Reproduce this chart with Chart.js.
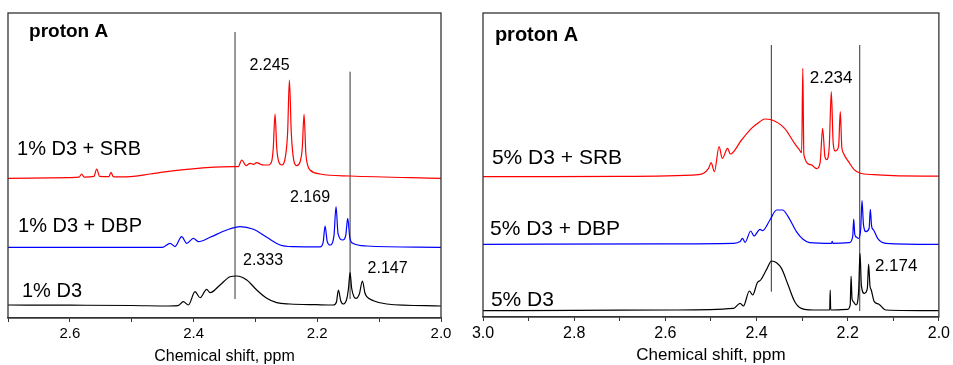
<!doctype html>
<html>

<head>
    <title>proton A</title>
    <script src="https://cdn.jsdelivr.net/npm/chart.js"></script>
    <style>
        body { margin: 0; background: #fff; }
        #wrap { position: relative; width: 953px; height: 365px; }
        canvas { position: absolute; left: 0; top: 0; }
    </style>
</head>

<body>
    <div id="wrap">
        <canvas id="spec1" width="953" height="365"></canvas>
        <canvas id="spec5" width="953" height="365"></canvas>
    </div>

    <script>
        // ---- 1% panel (ppm, intensity above own baseline) ----
        const ppmD3_1 = [2.70, 2.60, 2.50, 2.44, 2.425, 2.4165, 2.4084, 2.3976, 2.3895, 2.3788, 2.3734, 2.3572, 2.341, 2.3302, 2.314, 2.2979, 2.2817, 2.2656, 2.244, 2.2009, 2.174, 2.1690, 2.1659, 2.1620, 2.1578, 2.152, 2.1495, 2.147, 2.1445, 2.1405, 2.1373, 2.132, 2.127, 2.123, 2.12, 2.1093, 2.0877, 2.0]
        const intD3_1 = [1.0, 0.8, 0.5, 0, 0.3, 4.3, 1, 14.3, 8.3, 16.7, 13.3, 21, 29.3, 30, 26, 16, 7.7, 3.3, 2, 1.3, 1, 4, 16, 5, 2, 8, 18, 33.3, 18, 9, 7.7, 12, 25, 13, 9.3, 5.3, 2, 0]

        const ppmDBP_1 = [2.70, 2.60, 2.45, 2.438, 2.43, 2.4192, 2.4111, 2.4003, 2.3922, 2.3734, 2.3464, 2.3249, 2.3033, 2.2817, 2.2602, 2.2386, 2.1955, 2.1905, 2.1874, 2.1840, 2.1793, 2.1730, 2.1697, 2.1665, 2.1589, 2.1540, 2.1508, 2.1475, 2.1427, 2.12, 2.0]
        const intDBP_1 = [0, 0, 0, 4, 0.7, 10.7, 4, 9, 5.7, 10, 17.3, 20.7, 18, 10, 2.3, 0.7, 0.5, 5, 21.3, 6, 2.3, 12, 40.7, 14, 7.3, 12, 29, 10, 4, 1.3, 0]

        const ppmSRB_1 = [2.70, 2.60, 2.585, 2.5809, 2.577, 2.561, 2.5566, 2.552, 2.537, 2.5334, 2.530, 2.5243, 2.4973, 2.4704, 2.4434, 2.4111, 2.3788, 2.3357, 2.3276, 2.3222, 2.3152, 2.3087, 2.3033, 2.2979, 2.2925, 2.2871, 2.279, 2.2737, 2.2712, 2.2683, 2.2655, 2.2620, 2.2575, 2.2520, 2.2480, 2.2451, 2.2420, 2.2380, 2.2333, 2.2280, 2.2243, 2.2214, 2.2185, 2.2150, 2.2117, 2.1955, 2.147, 2.0]
        const intSRB_1 = [0, 0.7, 1.2, 4.3, 1.2, 2, 9.3, 2, 1.7, 6, 1.7, 1.5, 2, 4.3, 6.7, 9, 10.7, 11.7, 11.7, 18.3, 12.7, 15, 14, 15.7, 14.3, 13.3, 13.3, 17, 30, 64.3, 30, 16, 13.3, 20, 45, 98.3, 45, 18, 12.7, 16, 30, 64, 25, 12, 8.3, 4.3, 2.3, 0]

        const baseline_1 = [12, 70.7, 139.7]          // D3, +DBP, +SRB
        const markerPpm_1 = [2.333, 2.147]
        const markerTop_1 = [286, 246.3]
        const markerBottom_1 = [19, 19]

        // ---- 5% panel ----
        const ppmD3_5 = [3.00, 2.80, 2.5814, 2.4506, 2.436, 2.4288, 2.4157, 2.4084, 2.3983, 2.391, 2.3779, 2.367, 2.3561, 2.3452, 2.3307, 2.3161, 2.3016, 2.2762, 2.2395, 2.2384, 2.2373, 2.1999, 2.1945, 2.1926, 2.1905, 2.1875, 2.1817, 2.1760, 2.173, 2.1700, 2.1635, 2.1570, 2.1541, 2.1512, 2.1483, 2.1417, 2.1323, 2.1163, 2.0]
        const intD3_5 = [0, 0.3, 0.7, 2.3, 7.3, 4.7, 19.7, 15.7, 28, 30.7, 41.3, 49.7, 48, 42.3, 25.7, 9, 2.3, 0.7, 0.7, 20.7, 0.7, 1.3, 6, 34.7, 12, 9, 5.7, 20, 57.3, 25, 17.3, 22, 46.7, 25, 20.7, 9, 6.7, 0.7, 0]

        const ppmDBP_5 = [3.00, 2.60, 2.4506, 2.436, 2.431, 2.4251, 2.4128, 2.4055, 2.3924, 2.3866, 2.3706, 2.3561, 2.343, 2.3307, 2.3125, 2.298, 2.2834, 2.2355, 2.234, 2.2325, 2.1962, 2.1890, 2.1868, 2.1845, 2.1802, 2.1759, 2.1715, 2.1686, 2.1655, 2.1599, 2.1530, 2.1504, 2.1475, 2.1432, 2.1344, 2.1163, 2.0]
        const intDBP_5 = [0, 0.5, 1, 2.7, 6, 2, 13.3, 8.3, 15, 13.7, 24.3, 34.3, 34.3, 27.7, 12.7, 5, 1.7, 1, 3, 1, 1.7, 8, 25.3, 10, 7, 6, 15, 43.7, 20, 12.7, 16, 35, 18, 14.3, 6, 1, 0]

        const ppmSRB_5 = [3.00, 2.70, 2.527, 2.5056, 2.4996, 2.4924, 2.4822, 2.475, 2.4634, 2.4575, 2.4329, 2.4111, 2.3928, 2.382, 2.3675, 2.3384, 2.3166, 2.3057, 2.3010, 2.2985, 2.2962, 2.281, 2.268, 2.2605, 2.255, 2.250, 2.2462, 2.2405, 2.236, 2.232, 2.2273, 2.220, 2.2163, 2.213, 2.2098, 2.1967, 2.1858, 2.1736, 2.1423, 2.10, 2.0]
        const intSRB_5 = [0, 0.3, 2, 8, 14, 5, 30, 18.3, 28.3, 22.7, 36.7, 48.3, 55, 57.7, 57, 48.3, 33.3, 26.7, 24, 108.3, 22, 12, 8, 14, 48.3, 20, 17, 30, 85, 35, 25.7, 30, 65, 30, 24, 14, 7, 3.7, 2, 1, 0.5]

        const baseline_5 = [6.3, 72.7, 140.3]
        const markerPpm_5 = [2.3675, 2.1736]
        const markerTop_5 = [272, 272]
        const markerBottom_5 = [25.3, 6]

        const fontFamily = "'Liberation Sans', Arial, sans-serif"
        Chart.defaults.font.family = fontFamily
        Chart.defaults.color = '#000'

        function spectrum(ppm, inten, offset, color) {
            return {
                data: ppm.map((p, i) => ({ x: p, y: inten[i] + offset })),
                borderColor: color,
                borderWidth: 1.2,
                pointRadius: 0,
                cubicInterpolationMode: 'monotone',
                fill: false
            }
        }

        function markers(ppm, top, bottom) {
            return ppm.map((p, i) => ({
                data: [{ x: p, y: bottom[i] }, { x: p, y: top[i] }],
                borderColor: '#333',
                borderWidth: 1,
                pointRadius: 0,
                tension: 0,
                fill: false
            }))
        }

        // frame round the plot area plus the text notes
        function framePlugin(notes) {
            return {
                id: 'frameNotes',
                afterDraw(chart) {
                    const { ctx, chartArea: { top, bottom, left, right }, scales: { x, y } } = chart
                    ctx.save()
                    ctx.strokeStyle = '#333'
                    ctx.lineWidth = 1.3
                    ctx.strokeRect(left, top, right - left, bottom - top)
                    ctx.fillStyle = '#000'
                    ctx.textBaseline = 'middle'
                    notes.forEach(n => {
                        ctx.font = (n.bold ? 'bold ' : '') + n.size + 'px ' + fontFamily
                        ctx.textAlign = n.align
                        ctx.fillText(n.text, x.getPixelForValue(n.x), y.getPixelForValue(n.y))
                    })
                    ctx.restore()
                }
            }
        }

        function xAxis(min, max, height, size) {
            return {
                type: 'linear',
                reverse: true,
                min: min,
                max: max,
                afterFit(scale) { scale.height = height },
                border: { display: true, color: '#333', width: 1.3 },
                grid: { drawOnChartArea: false, drawTicks: true, tickLength: 4, color: '#333' },
                ticks: {
                    stepSize: 0.1,
                    padding: 3,
                    autoSkip: false,
                    maxRotation: 0,
                    font: { size: size },
                    callback: v => Math.round(v * 10) % 2 === 0 ? v.toFixed(1) : ''
                },
                title: {
                    display: true,
                    text: 'Chemical shift, ppm',
                    font: { size: size + 1, lineHeight: 1.1 },
                    padding: 0
                }
            }
        }

        const notes_1 = [
            { text: 'proton A', x: 2.666, y: 286, align: 'left', size: 19, bold: true },
            { text: '2.245', x: 2.2772, y: 252, align: 'center', size: 16 },
            { text: '1% D3 + SRB', x: 2.6854, y: 169, align: 'left', size: 20 },
            { text: '1% D3 + DBP', x: 2.6838, y: 92, align: 'left', size: 20 },
            { text: '1% D3', x: 2.6774, y: 27, align: 'left', size: 20 },
            { text: '2.333', x: 2.2877, y: 57, align: 'center', size: 16 },
            { text: '2.169', x: 2.2117, y: 120, align: 'center', size: 16 },
            { text: '2.147', x: 2.0863, y: 49, align: 'center', size: 16 }
        ]

        const notes_5 = [
            { text: 'proton A', x: 2.9739, y: 282, align: 'left', size: 20, bold: true },
            { text: '2.234', x: 2.2364, y: 239, align: 'center', size: 17 },
            { text: '5% D3 + SRB', x: 2.9804, y: 159, align: 'left', size: 21 },
            { text: '5% D3 + DBP', x: 2.9847, y: 88, align: 'left', size: 21 },
            { text: '5% D3', x: 2.9826, y: 17, align: 'left', size: 21 },
            { text: '2.174', x: 2.0937, y: 51, align: 'center', size: 17 }
        ]

        var chart1 = new Chart(document.getElementById('spec1').getContext('2d'), {
            type: 'line',
            data: {
                datasets: [
                    spectrum(ppmD3_1, intD3_1, baseline_1[0], '#000000'),
                    spectrum(ppmDBP_1, intDBP_1, baseline_1[1], '#0000ff'),
                    spectrum(ppmSRB_1, intSRB_1, baseline_1[2], '#ff0000'),
                    ...markers(markerPpm_1, markerTop_1, markerBottom_1)
                ]
            },
            options: {
                responsive: false,
                animation: false,
                events: [],
                layout: { autoPadding: false, padding: { left: 8, right: 512, top: 13, bottom: 0 } },
                plugins: { legend: { display: false }, tooltip: { enabled: false } },
                scales: {
                    x: xAxis(2.0, 2.7, 47, 15),
                    y: { display: false, min: 0, max: 305 }
                }
            },
            plugins: [framePlugin(notes_1)]
        });

        var chart5 = new Chart(document.getElementById('spec5').getContext('2d'), {
            type: 'line',
            data: {
                datasets: [
                    spectrum(ppmD3_5, intD3_5, baseline_5[0], '#000000'),
                    spectrum(ppmDBP_5, intDBP_5, baseline_5[1], '#0000ff'),
                    spectrum(ppmSRB_5, intSRB_5, baseline_5[2], '#ff0000'),
                    ...markers(markerPpm_5, markerTop_5, markerBottom_5)
                ]
            },
            options: {
                responsive: false,
                animation: false,
                events: [],
                layout: { autoPadding: false, padding: { left: 483, right: 11, top: 13, bottom: 0 } },
                plugins: { legend: { display: false }, tooltip: { enabled: false } },
                scales: {
                    x: xAxis(2.0, 3.0, 48, 16),
                    y: { display: false, min: 0, max: 304 }
                }
            },
            plugins: [framePlugin(notes_5)]
        });
    </script>
</body>

</html>
